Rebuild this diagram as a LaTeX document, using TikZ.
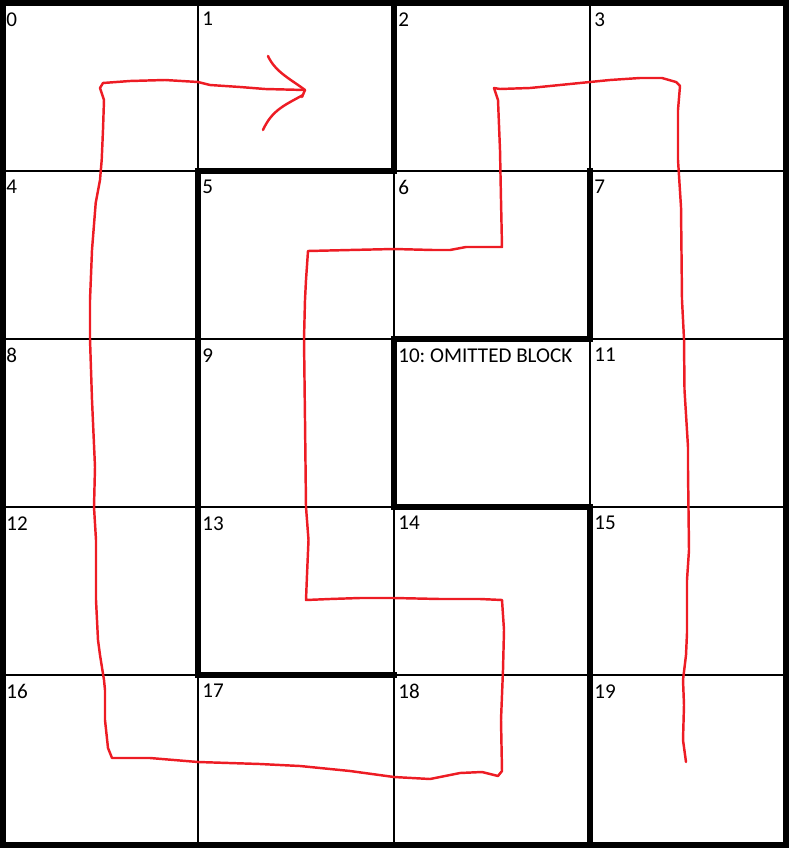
\documentclass[tikz,border=0pt]{standalone}
\usepackage{fontspec}
\setmainfont{Carlito}
\usetikzlibrary{positioning}
\definecolor{cPath}{RGB}{237,28,36}
\tikzset{
  gridline/.style={draw=black,line width=0.6pt},
  wallline/.style={draw=black,line width=3.4pt,line cap=rect},
  celllabel/.style={anchor=north west,inner sep=0pt,
                    font=\fontsize{12}{14}\selectfont},
  pathline/.style={draw=cPath,line width=1.4pt,line join=round,line cap=round}
}
\frenchspacing

\begin{document}
\begin{tikzpicture}[x=0.02cm,y=-0.02cm]
  \useasboundingbox (0,0) rectangle (789,848);
  % thin grid
  \foreach \gx in {198,394,590}
    \draw[gridline] (\gx,3) -- (\gx,845);
  \foreach \gy in {171,339,507,675}
    \draw[gridline] (2,\gy) -- (787,\gy);
  % cell numbers
  \foreach \n in {0,...,19}{
    \pgfmathtruncatemacro{\col}{mod(\n,4)}
    \pgfmathtruncatemacro{\row}{int(\n/4)}
    \ifnum\n=10
      \node[celllabel] (c\n) at (2+196*\col+4,3+168*\row+9) {10: OMITTED BLOCK};
    \else
      \node[celllabel] (c\n) at (2+196*\col+4,3+168*\row+9) {\n};
    \fi
  }
  % walls
  \draw[wallline] (3,3) rectangle (786,845);
  \draw[wallline] (394,3) -- (394,171) -- (198,171) -- (198,675) -- (394,675);
  \draw[wallline] (590,171) -- (590,339) -- (394,339) -- (394,507) -- (590,507) -- (590,845);
  % route
  \draw[pathline] (686,762) -- (683,740) -- (684,705) -- (683,680) -- (686,655)
    -- (687,633) -- (687,580) -- (689,550) -- (688,470) -- (688,447)
    -- (684.5,390) -- (684,339) -- (682,300) -- (681,207) -- (678,160)
    -- (678,110) -- (680,86) -- (676,82) -- (662,78) -- (640,78) -- (610,80)
    -- (590,82) -- (560,85) -- (530,88) -- (500,89) -- (494,88) -- (498,100)
    -- (500,150) -- (501,200) -- (502,247) -- (466,247) -- (450,250)
    -- (433,250) -- (394,249) -- (350,250) -- (308,251) -- (306,280)
    -- (305,300) -- (304,339) -- (305,420) -- (306,507) -- (308.5,540)
    -- (307,575) -- (306,600) -- (330,599) -- (360,598) -- (394,598)
    -- (440,599) -- (480,599) -- (502,600) -- (504,630) -- (503,670)
    -- (501,720) -- (502,771) -- (498,776) -- (482,772) -- (460,773)
    -- (440,777) -- (430,779) -- (394,777) -- (350,771) -- (300,766)
    -- (260,764) -- (198,762) -- (150,758) -- (112,758) -- (108,748)
    -- (105,720) -- (105,690) -- (104,680) -- (100,655) -- (98,640)
    -- (96,600) -- (96,540) -- (94,507) -- (95,467) -- (92,400) -- (90,339)
    -- (90,300) -- (92,250) -- (95.7,203) -- (100,180) -- (101.7,160)
    -- (103,130) -- (104,100) -- (100,88) -- (103,83) -- (130,81)
    -- (165,80) -- (198,82) -- (210,85) -- (240,87) -- (265,89) -- (305,90);
  \draw[pathline] (268,56) .. controls (275,72) and (292,80) .. (305,90)
    -- (302,97);
  \draw[pathline] (303,95) .. controls (285,105) and (272,110) .. (263,130);
\end{tikzpicture}
\end{document}
